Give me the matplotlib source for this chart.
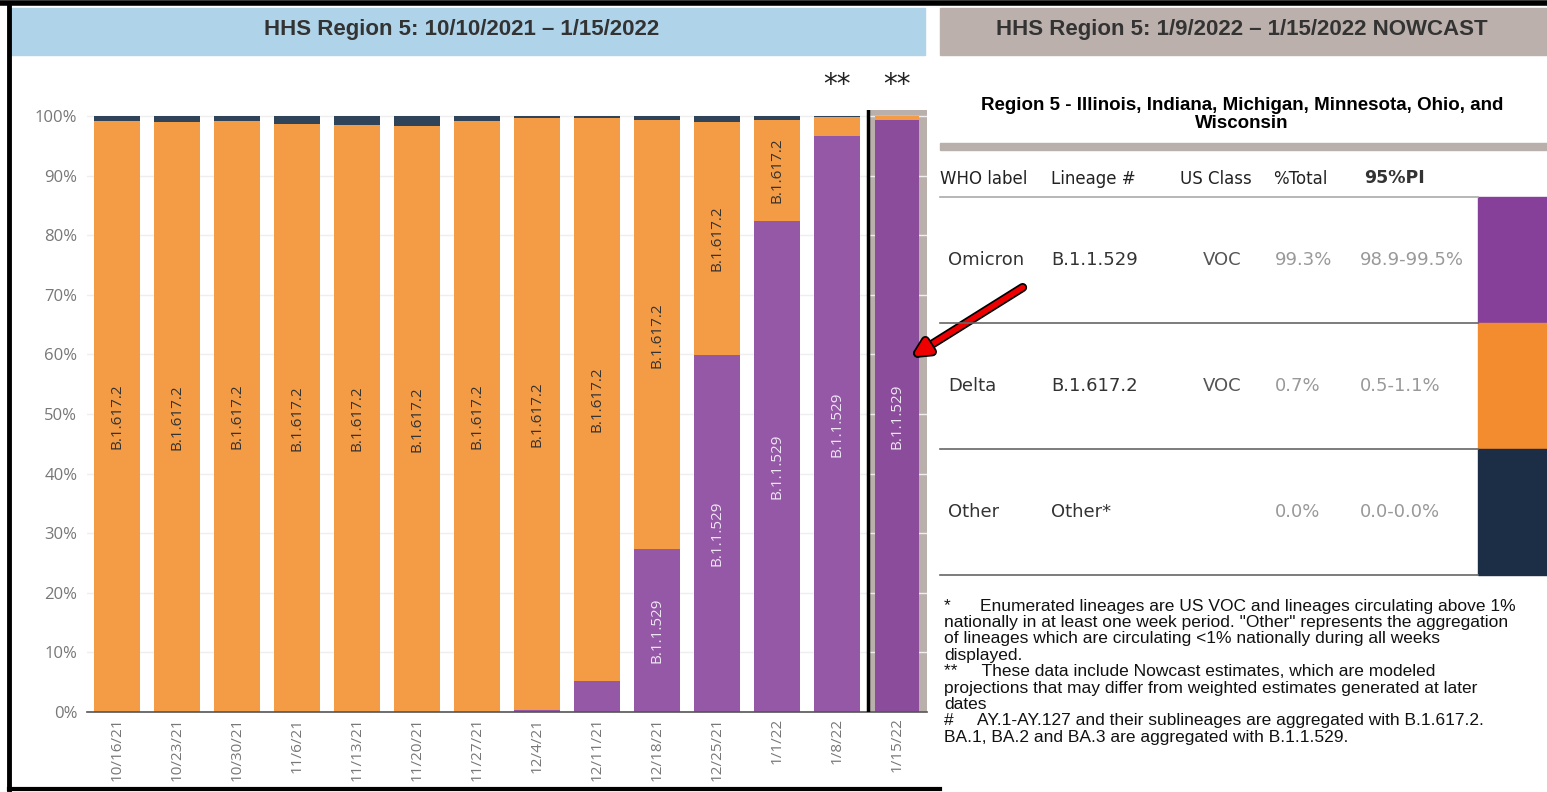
import numpy as np
import matplotlib.pyplot as plt
from matplotlib.patches import Rectangle, FancyArrowPatch
import matplotlib.patheffects as pe

W, H = 1547, 792

# weekly lineage proportions (%)
weeks = ["10/16/21", "10/23/21", "10/30/21", "11/6/21", "11/13/21", "11/20/21",
         "11/27/21", "12/4/21", "12/11/21", "12/18/21", "12/25/21", "1/1/22",
         "1/8/22", "1/15/22"]
omicron = [0, 0, 0, 0, 0, 0, 0, 0.3, 5.2, 27.3, 59.9, 82.4, 96.6, 99.3]
delta = [99.2, 99.0, 99.2, 98.7, 98.5, 98.3, 99.2, 99.4, 94.5, 72.0, 39.1, 17.0, 3.3, 0.7]
other = [0.8, 1.0, 0.8, 1.3, 1.5, 1.7, 0.8, 0.3, 0.3, 0.7, 1.0, 0.6, 0.1, 0.0]
nowcast_weeks = ["1/8/22", "1/15/22"]

# nowcast table
who_labels = ["Omicron", "Delta", "Other"]
lineages = ["B.1.1.529", "B.1.617.2", "Other*"]
us_class = ["VOC", "VOC", ""]
pct_total = ["99.3%", "0.7%", "0.0%"]
pi95 = ["98.9-99.5%", "0.5-1.1%", "0.0-0.0%"]
table_colors = ["#87409a", "#f28c2e", "#1b2e45"]

footnotes = [
    "*      Enumerated lineages are US VOC and lineages circulating above 1%",
    "nationally in at least one week period. \"Other\" represents the aggregation",
    "of lineages which are circulating <1% nationally during all weeks",
    "displayed.",
    "**     These data include Nowcast estimates, which are modeled",
    "projections that may differ from weighted estimates generated at later",
    "dates",
    "#     AY.1-AY.127 and their sublineages are aggregated with B.1.617.2.",
    "BA.1, BA.2 and BA.3 are aggregated with B.1.1.529.",
]

ORANGE = "#f39c45"
PURPLE = "#9558a7"
PURPLE_NOW = "#8b4c9c"
NAVY = "#2f4459"
TICK_GRAY = "#777777"


def px_axes(fig, x0, y0, x1, y1, **kw):
    return fig.add_axes([x0 / W, 1 - y1 / H, (x1 - x0) / W, (y1 - y0) / H], **kw)


fig = plt.figure(figsize=(W / 100, H / 100), dpi=100)
fig.patch.set_facecolor("white")

# ---- stacked bar chart ----
ax = px_axes(fig, 87, 110, 927, 712)
x = np.arange(len(weeks))
n = len(weeks)
om_colors = [PURPLE] * (n - 1) + [PURPLE_NOW]

# nowcast highlight behind the last bar
ax.axvspan(n - 1.5 + 0.02, n - 0.5, color="#bab0ab", zorder=0)
ax.axvline(n - 1.5 + 0.02, color="black", lw=2.5, zorder=3)

om = np.array(omicron)
de = np.array(delta)
ot = np.array(other)
widths = [0.78] * (n - 1) + [0.74]
ax.bar(x, om, width=widths, color=om_colors, zorder=2)
ax.bar(x, de, bottom=om, width=widths, color=ORANGE, zorder=2)
ax.bar(x, ot, bottom=om + de, width=widths, color=NAVY, zorder=2)

for i in range(n):
    if om[i] > 10:
        ax.text(x[i], om[i] / 2, "B.1.1.529", rotation=90, ha="center", va="center",
                color="#eee6f2", fontsize=11, family="Open Sans", zorder=4)
    if de[i] > 10:
        ax.text(x[i], om[i] + de[i] / 2, "B.1.617.2", rotation=90, ha="center", va="center",
                color="#333333", fontsize=11, family="Open Sans", zorder=4)

for wk in nowcast_weeks:
    ax.text(weeks.index(wk), 105.2, "**", ha="center", va="center", fontsize=20,
            color="#222222", clip_on=False)

ax.set_xlim(-0.5, n - 0.5)
ax.set_ylim(0, 101)
ax.set_yticks(np.arange(0, 101, 10))
ax.set_yticklabels([f"{v}%" for v in range(0, 101, 10)], family="Open Sans",
                   fontsize=12, color=TICK_GRAY)
ax.set_xticks(x)
ax.set_xticklabels(weeks, rotation=90, family="Open Sans", fontsize=11, color=TICK_GRAY)
ax.tick_params(axis="y", length=0, pad=7)
ax.tick_params(axis="x", length=0, pad=4)
ax.grid(axis="y", color="#eeeeee", lw=1, zorder=0)
ax.set_axisbelow(True)
for s in ["top", "right", "left"]:
    ax.spines[s].set_visible(False)
ax.spines["bottom"].set_color("#555555")
ax.spines["bottom"].set_linewidth(1.2)

# ---- overlay for headers, table, notes ----
ov = px_axes(fig, 0, 0, W, H, zorder=5)
ov.set_xlim(0, W)
ov.set_ylim(H, 0)
ov.axis("off")
ov.patch.set_alpha(0)

# frame
ov.plot([9, 9], [3, 789], color="black", lw=3.5)
ov.plot([0, W], [3, 3], color="black", lw=4)
ov.plot([9, 940], [789, 789], color="black", lw=3)

# panel headers
ov.add_patch(Rectangle((11, 8), 914, 47, color="#afd4ea"))
ov.text(462, 30, "HHS Region 5: 10/10/2021 \u2013 1/15/2022", ha="center", va="center",
        fontsize=16, fontweight="bold", family="Liberation Sans", color="#333333")
ov.add_patch(Rectangle((940, 8), W - 940, 47, color="#bbb0ab"))
ov.text(1242, 30, "HHS Region 5: 1/9/2022 \u2013 1/15/2022 NOWCAST", ha="center", va="center",
        fontsize=16, fontweight="bold", family="Liberation Sans", color="#333333")

# region title
ov.text(1242, 106, "Region 5 - Illinois, Indiana, Michigan, Minnesota, Ohio, and",
        ha="center", va="center", fontsize=13.5, fontweight="bold", family="Liberation Sans")
ov.text(1242, 124, "Wisconsin", ha="center", va="center", fontsize=13.5,
        fontweight="bold", family="Liberation Sans")
ov.add_patch(Rectangle((940, 143), W - 940, 7, color="#bab0ab"))

# table header
hdr = [("WHO label", 940), ("Lineage #", 1051), ("US Class", 1180), ("%Total", 1273)]
for label, hx in hdr:
    ov.text(hx, 179, label, ha="left", va="center", fontsize=12, color="#222222",
            family="DejaVu Sans")
ov.text(1364, 178, "95%PI", ha="left", va="center", fontsize=12.5, fontweight="bold",
        color="#333333", family="DejaVu Sans")
ov.plot([940, 1478], [197, 197], color="#aaaaaa", lw=1.2)

row_top = 197
row_h = 126
for r in range(len(who_labels)):
    y0 = row_top + r * row_h
    yc = y0 + row_h / 2
    ov.add_patch(Rectangle((1478, y0), W - 1478, row_h, color=table_colors[r]))
    ov.plot([940, 1478], [y0 + row_h, y0 + row_h], color="#666666", lw=1.2)
    ov.text(948, yc, who_labels[r], ha="left", va="center", fontsize=13, color="#333333")
    ov.text(1051, yc, lineages[r], ha="left", va="center", fontsize=13, color="#333333")
    ov.text(1203, yc, us_class[r], ha="left", va="center", fontsize=13, color="#555555")
    ov.text(1275, yc, pct_total[r], ha="left", va="center", fontsize=13, color="#999999")
    ov.text(1360, yc, pi95[r], ha="left", va="center", fontsize=13, color="#999999")

# footnotes
for k, line in enumerate(footnotes):
    ov.text(944, 606 + k * 16.4, line, ha="left", va="center", fontsize=12.5,
            family="Liberation Sans", color="#111111")

# arrow
arr = FancyArrowPatch((1025, 286), (910, 358), arrowstyle="-|>,head_length=6,head_width=3",
                      color="#ee0000", lw=4, mutation_scale=1.6,
                      path_effects=[pe.Stroke(linewidth=6.5, foreground="black"), pe.Normal()])
ov.add_patch(arr)

fig.savefig("out.png", dpi=100)
